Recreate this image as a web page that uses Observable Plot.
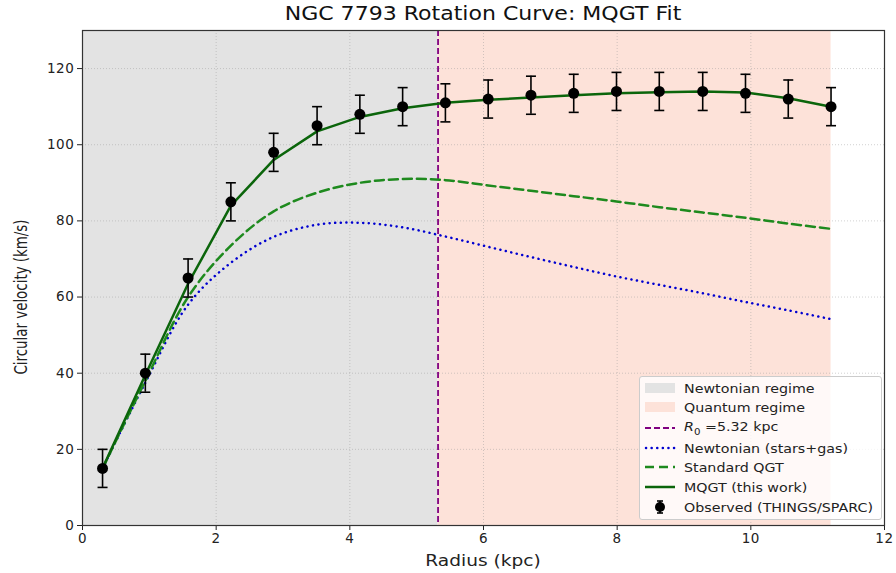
<!DOCTYPE html>
<html>
<head>
<meta charset="utf-8">
<script src="https://cdn.jsdelivr.net/npm/d3@7"></script>
<script src="https://cdn.jsdelivr.net/npm/@observablehq/plot@0.6"></script>
<style>
  html, body { margin: 0; padding: 0; background: #fff; }
  #wrap { position: relative; width: 896px; height: 573px; font-family: "DejaVu Sans", sans-serif; }
  #title { position: absolute; left: 82px; width: 802px; top: 2px; text-align: center; font-size: 19px; color: #111; transform: scaleX(1.16); }
  #xlabel { position: absolute; left: 82px; width: 802px; top: 551px; text-align: center; font-size: 16px; color: #222; transform: scaleX(1.16); }
  #ylabel { position: absolute; left: 21px; top: 297px; transform: translate(-50%, -50%) rotate(-90deg) scaleY(1.35); white-space: nowrap; font-size: 13.4px; color: #222; }
  #legend { position: absolute; left: 639px; top: 376px; width: 243px; height: 144px; background: rgba(255,255,255,0.8);
            border: 1px solid #ccc; border-radius: 3px; box-sizing: border-box; font-size: 12.5px; color: #222; }
  .row { position: absolute; left: 4px; height: 18px; display: flex; align-items: center; }
  .row svg { width: 32px; height: 14px; margin-right: 8px; }
  .row span { display: inline-block; transform: scaleX(1.14); transform-origin: left center; white-space: nowrap; }
  sub { font-size: 9px; }
</style>
</head>
<body>
<div id="wrap">
  <div id="chart"></div>
  <div id="title">NGC 7793 Rotation Curve: MQGT Fit</div>
  <div id="xlabel">Radius (kpc)</div>
  <div id="ylabel">Circular velocity (km/s)</div>
  <div id="legend"></div>
</div>
<script>
// ---- data ----
const radius = [0.30, 0.94, 1.58, 2.22, 2.86, 3.51, 4.15, 4.79, 5.43, 6.07, 6.71, 7.35, 7.99, 8.63, 9.28, 9.92, 10.56, 11.20];
const vObs   = [15, 40, 65, 85, 98, 105, 108, 110, 111, 112, 113, 113.5, 114, 114, 114, 113.5, 112, 110];
const vErr   = [5, 5, 5, 5, 5, 5, 5, 5, 5, 5, 5, 5, 5, 5, 5, 5, 5, 5];
const vMQGT  = [15, 39.5, 63.5, 84, 96, 103.5, 107.3, 109.6, 111, 111.8, 112.4, 113, 113.5, 113.8, 114, 113.7, 112.2, 110];
const vQGT   = [15, 38, 60, 73.5, 82.5, 87.4, 90, 91, 90.7, 89.3, 87.9, 86.5, 85.1, 83.6, 82.2, 80.8, 79.3, 77.9];
const vNewt  = [15, 37.5, 58, 69, 75.8, 79, 79.5, 78.3, 75.9, 73.2, 70.5, 67.9, 65.4, 63.2, 61.0, 58.7, 56.5, 54.2];
const R0 = 5.32;
const xTicks = [0, 2, 4, 6, 8, 10, 12];
const yTicks = [0, 20, 40, 60, 80, 100, 120];
const legendLabels = ["Newtonian regime", "Quantum regime", "R0", "Newtonian (stars+gas)", "Standard QGT", "MQGT (this work)", "Observed (THINGS/SPARC)"];

const obs = radius.map((r, i) => ({r, v: vObs[i], lo: vObs[i] - vErr[i], hi: vObs[i] + vErr[i]}));
const mq = radius.map((r, i) => ({r, v: vMQGT[i]}));
const qg = radius.map((r, i) => ({r, v: vQGT[i]}));
const nw = radius.map((r, i) => ({r, v: vNewt[i]}));
const regimes = [
  {x1: 0, x2: R0, fill: "#e3e3e3"},
  {x1: R0, x2: radius[radius.length - 1], fill: "#fde2d9"}
];
const capSymbol = { draw(ctx, size) { const w = 5; ctx.moveTo(-w, 0); ctx.lineTo(w, 0); } };

const plot = Plot.plot({
  width: 896, height: 573,
  marginTop: 30, marginBottom: 48, marginLeft: 82, marginRight: 12,
  style: {fontFamily: "DejaVu Sans, sans-serif", fontSize: "13.5px", color: "#222", background: "transparent", letterSpacing: "0.6px"},
  x: {domain: [0, 12], ticks: xTicks, tickSize: 5, tickPadding: 3, label: null},
  y: {domain: [0, 130], ticks: yTicks, tickSize: 5, tickPadding: 3, label: null},
  marks: [
    Plot.rect(regimes, {x1: "x1", x2: "x2", y1: 0, y2: 130, fill: "fill"}),
    Plot.gridX(xTicks, {stroke: "#999", strokeOpacity: 0.45, strokeDasharray: "1,2"}),
    Plot.gridY(yTicks, {stroke: "#999", strokeOpacity: 0.45, strokeDasharray: "1,2"}),
    Plot.ruleX([R0], {stroke: "#800080", strokeWidth: 1.8, strokeDasharray: "6,3"}),
    Plot.line(nw, {x: "r", y: "v", stroke: "#0000d0", strokeWidth: 2.5, strokeDasharray: "0.1,5.5", strokeLinecap: "round", curve: "catmull-rom"}),
    Plot.line(qg, {x: "r", y: "v", stroke: "#1e8a1e", strokeWidth: 2.5, strokeDasharray: "9,5", curve: "catmull-rom"}),
    Plot.line(mq, {x: "r", y: "v", stroke: "#0b650b", strokeWidth: 2.5}),
    Plot.ruleX(obs, {x: "r", y1: "lo", y2: "hi", stroke: "#000", strokeWidth: 1.6}),
    Plot.dot(obs, {x: "r", y: "lo", symbol: capSymbol, r: 5, stroke: "#000", strokeWidth: 1.6, fill: "none"}),
    Plot.dot(obs, {x: "r", y: "hi", symbol: capSymbol, r: 5, stroke: "#000", strokeWidth: 1.6, fill: "none"}),
    Plot.dot(obs, {x: "r", y: "v", r: 5.5, fill: "#000", stroke: "none"}),
    Plot.frame({stroke: "#333", strokeWidth: 1.2})
  ]
});
document.getElementById("chart").appendChild(plot);

// ---- legend ----
const sw = {
  0: '<rect x="1" y="2" width="30" height="10" fill="#e3e3e3"/>',
  1: '<rect x="1" y="2" width="30" height="10" fill="#fde2d9"/>',
  2: '<line x1="1" y1="7" x2="31" y2="7" stroke="#800080" stroke-width="2" stroke-dasharray="6,3"/>',
  3: '<line x1="2" y1="7" x2="31" y2="7" stroke="#0000d0" stroke-width="2.5" stroke-dasharray="0.1,5.5" stroke-linecap="round"/>',
  4: '<line x1="1" y1="7" x2="31" y2="7" stroke="#1e8a1e" stroke-width="2.5" stroke-dasharray="9,5"/>',
  5: '<line x1="1" y1="7" x2="31" y2="7" stroke="#0b650b" stroke-width="2.5"/>',
  6: '<line x1="16" y1="1" x2="16" y2="13" stroke="#000" stroke-width="1.6"/><line x1="13" y1="1" x2="19" y2="1" stroke="#000" stroke-width="1.6"/><line x1="13" y1="13" x2="19" y2="13" stroke="#000" stroke-width="1.6"/><circle cx="16" cy="7" r="5" fill="#000"/>'
};
const leg = document.getElementById("legend");
const rowTops = [2, 21, 42, 62, 81, 101, 121];
legendLabels.forEach((lab, i) => {
  const d = document.createElement("div");
  d.className = "row";
  d.style.top = rowTops[i] + "px";
  const text = lab === "R0" ? '<span><i>R</i><sub>0</sub> =5.32 kpc</span>' : '<span>' + lab + '</span>';
  d.innerHTML = '<svg viewBox="0 0 32 14">' + sw[i] + '</svg>' + text;
  leg.appendChild(d);
});
</script>
</body>
</html>
